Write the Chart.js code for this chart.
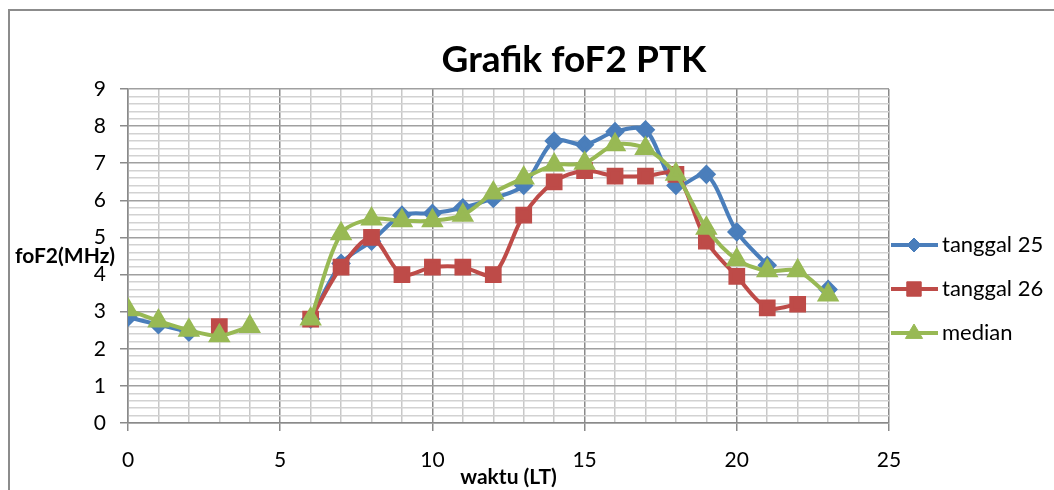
<!DOCTYPE html>
<html>
<head>
<meta charset="utf-8">
<script src="https://cdn.jsdelivr.net/npm/chart.js@4"></script>
<style>
  html, body { margin: 0; padding: 0; background: #fff; }
  #wrap { width: 1054px; height: 490px; position: relative; }
</style>
</head>
<body>
<div id="wrap"><canvas id="chart" width="1054" height="490"></canvas></div>
<script>
// hours (LT)
const hours = [0, 1, 2, 3, 4, 5, 6, 7, 8, 9, 10, 11, 12, 13, 14, 15, 16, 17, 18, 19, 20, 21, 22, 23];

// foF2 values in MHz, null = no data
const tanggal25 = [2.85, 2.65, 2.45, null, null, null, 2.8, 4.3, 4.9, 5.6, 5.65, 5.8, 6.05, 6.4, 7.6, 7.5, 7.85, 7.9, 6.4, 6.7, 5.15, 4.25, null, 3.6];
const tanggal26 = [null, null, null, 2.6, null, null, 2.8, 4.2, 5.0, 4.0, 4.2, 4.2, 4.0, 5.6, 6.5, 6.8, 6.65, 6.65, 6.7, 4.9, 3.95, 3.1, 3.2, null];
const median = [3.05, 2.75, 2.5, 2.35, 2.6, null, 2.8, 5.1, 5.5, 5.45, 5.45, 5.6, 6.2, 6.6, 6.95, 7.0, 7.5, 7.4, 6.7, 5.25, 4.4, 4.1, 4.1, 3.45];

const seriesNames = ['tanggal 25', 'tanggal 26', 'median'];
const chartTitle = 'Grafik foF2 PTK';
const xTitle = 'waktu (LT)';
const yTitle = 'foF2(MHz)';

const FONT = 'Lato, "Liberation Sans", sans-serif';

function toPoints(values) {
    return hours.map((h, i) => ({ x: h, y: values[i] }));
}

function isWhole(v) {
    return Math.abs(v - Math.round(v)) < 1e-6;
}

function drawMarker(ctx, style, r, x, y) {
    if (style === 'rectRot') {
        ctx.moveTo(x, y - r);
        ctx.lineTo(x + r, y);
        ctx.lineTo(x, y + r);
        ctx.lineTo(x - r, y);
        ctx.closePath();
    } else if (style === 'rect') {
        const s = r * 0.8;
        ctx.rect(x - s, y - s, s * 2, s * 2);
    } else {
        ctx.moveTo(x, y - r);
        ctx.lineTo(x + r * 0.95, y + r * 0.6);
        ctx.lineTo(x - r * 0.95, y + r * 0.6);
        ctx.closePath();
    }
}

// frame, titles and legend drawn by hand to look like the spreadsheet chart
const decorations = {
    id: 'decorations',
    beforeDraw(chart) {
        const ctx = chart.ctx;
        ctx.save();
        ctx.fillStyle = '#fff';
        ctx.fillRect(0, 0, chart.width, chart.height);
        ctx.strokeStyle = '#8c8c8c';
        ctx.lineWidth = 2;
        ctx.strokeRect(9, 10, 1200, 600);
        ctx.restore();
    },
    afterDraw(chart) {
        const ctx = chart.ctx;
        const area = chart.chartArea;
        ctx.save();
        ctx.fillStyle = '#000';
        ctx.textBaseline = 'middle';

        ctx.font = 'bold 37px ' + FONT;
        ctx.textAlign = 'center';
        ctx.fillText(chartTitle, 574, 60);

        ctx.font = 'bold 21px ' + FONT;
        ctx.fillText(xTitle, (area.left + area.right) / 2, 477);

        ctx.textAlign = 'left';
        ctx.fillText(yTitle, 15, 256);

        // legend
        const rows = [245, 289, 333];
        chart.data.datasets.forEach((ds, i) => {
            const y = rows[i];
            ctx.strokeStyle = ds.borderColor;
            ctx.lineWidth = 4;
            ctx.beginPath();
            ctx.moveTo(891, y);
            ctx.lineTo(938, y);
            ctx.stroke();
            ctx.fillStyle = ds.pointBackgroundColor;
            ctx.strokeStyle = ds.pointBorderColor;
            ctx.lineWidth = 1;
            ctx.beginPath();
            drawMarker(ctx, ds.pointStyle, ds.pointRadius, 914, y);
            ctx.fill();
            ctx.stroke();
            ctx.fillStyle = '#000';
            ctx.font = '22px ' + FONT;
            ctx.textAlign = 'left';
            ctx.fillText(ds.label, 942, y);
        });
        ctx.restore();
    }
};

function makeSeries(label, values, color, style, radius, order) {
    return {
        label: label,
        data: toPoints(values),
        borderColor: color,
        backgroundColor: color,
        pointBackgroundColor: color,
        pointBorderColor: color,
        pointStyle: style,
        pointRadius: radius,
        pointHoverRadius: radius,
        borderWidth: 4,
        tension: 0.3,
        spanGaps: false,
        order: order
    };
}

new Chart(document.getElementById('chart'), {
    type: 'line',
    data: {
        datasets: [
            makeSeries(seriesNames[0], tanggal25, '#4a7ebb', 'rectRot', 7, 2),
            makeSeries(seriesNames[1], tanggal26, '#be4b48', 'rect', 9, 1),
            makeSeries(seriesNames[2], median, '#98b954', 'triangle', 9, 0)
        ]
    },
    options: {
        responsive: false,
        animation: false,
        layout: { padding: { left: 0, right: 165, top: 89, bottom: 0 } },
        plugins: {
            legend: { display: false },
            title: { display: false },
            tooltip: { enabled: false }
        },
        scales: {
            x: {
                type: 'linear',
                min: 0,
                max: 25,
                afterFit: s => { s.height = 67; },
                ticks: {
                    stepSize: 1,
                    autoSkip: false,
                    maxRotation: 0,
                    padding: 17,
                    color: '#000',
                    font: { family: FONT, size: 21 },
                    callback: v => (v % 5 === 0 ? v : '')
                },
                grid: {
                    color: c => (c.tick && c.tick.value % 5 === 0 ? '#8a8a8a' : '#c8c8c8'),
                    tickColor: c => (c.tick && c.tick.value % 5 === 0 ? '#8a8a8a' : 'rgba(0,0,0,0)'),
                    tickLength: 8,
                    lineWidth: 1.5
                },
                border: { color: '#8a8a8a', width: 1.5 }
            },
            y: {
                min: 0,
                max: 9,
                afterFit: s => { s.width = 128; },
                ticks: {
                    stepSize: 0.2,
                    autoSkip: false,
                    padding: 14,
                    color: '#000',
                    font: { family: FONT, size: 21 },
                    callback: v => (isWhole(v) ? Math.round(v) : '')
                },
                grid: {
                    color: c => (c.tick && isWhole(c.tick.value) ? '#a0a0a0' : '#d2d2d2'),
                    tickColor: c => (c.tick && isWhole(c.tick.value) ? '#8a8a8a' : 'rgba(0,0,0,0)'),
                    tickLength: 8,
                    lineWidth: 1.5
                },
                border: { color: '#8a8a8a', width: 1.5 }
            }
        }
    },
    plugins: [decorations]
});
</script>
</body>
</html>
